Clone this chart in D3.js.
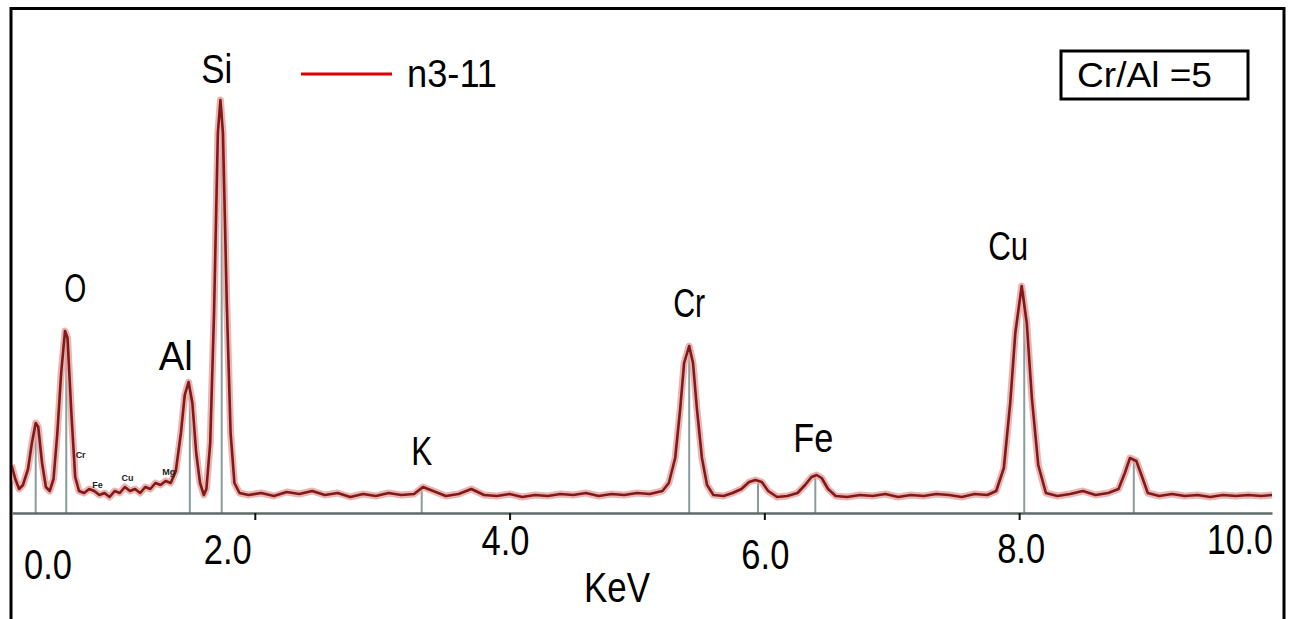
<!DOCTYPE html>
<html>
<head>
<meta charset="utf-8">
<script src="https://cdn.jsdelivr.net/npm/d3@7"></script>
<style>
  html, body { margin: 0; padding: 0; background: #ffffff; }
  svg { display: block; }
</style>
</head>
<body>
<svg id="chart" width="1290" height="619"></svg>
<script>
// EDS spectrum of sample n3-11: energy (keV) and detector counts
const energy = [
  0.09, 0.12, 0.15, 0.18, 0.22, 0.25, 0.28, 0.30, 0.33, 0.36,
  0.39, 0.42, 0.45, 0.48, 0.51, 0.53, 0.56, 0.59, 0.62, 0.66,
  0.70, 0.74, 0.78, 0.82, 0.86, 0.90, 0.94, 0.98, 1.02, 1.06,
  1.10, 1.14, 1.18, 1.22, 1.26, 1.30, 1.34, 1.38, 1.42, 1.45,
  1.48, 1.51, 1.54, 1.57, 1.60, 1.62, 1.65, 1.68, 1.71, 1.73,
  1.75, 1.78, 1.81, 1.84, 1.88, 1.95, 2.05, 2.15, 2.25, 2.35,
  2.45, 2.55, 2.65, 2.75, 2.85, 2.95, 3.05, 3.15, 3.25, 3.32,
  3.40, 3.50, 3.60, 3.70, 3.80, 3.90, 4.00, 4.10, 4.20, 4.30,
  4.40, 4.50, 4.60, 4.70, 4.80, 4.90, 5.00, 5.10, 5.20, 5.25,
  5.30, 5.34, 5.37, 5.41, 5.44, 5.47, 5.51, 5.55, 5.60, 5.68,
  5.75, 5.82, 5.88, 5.93, 5.98, 6.03, 6.10, 6.18, 6.26, 6.32,
  6.37, 6.41, 6.45, 6.50, 6.56, 6.65, 6.75, 6.85, 6.95, 7.05,
  7.15, 7.25, 7.35, 7.45, 7.55, 7.65, 7.75, 7.82, 7.88, 7.93,
  7.97, 8.02, 8.06, 8.10, 8.15, 8.21, 8.30, 8.40, 8.50, 8.60,
  8.70, 8.78, 8.83, 8.87, 8.92, 8.96, 9.01, 9.10, 9.20, 9.30,
  9.40, 9.50, 9.60, 9.70, 9.80, 9.90, 9.99
];
const counts = [
  48, 34, 24, 28, 44, 70, 90, 86, 50, 26,
  22, 34, 80, 140, 182, 175, 100, 36, 22, 20,
  24, 22, 18, 20, 16, 22, 20, 26, 22, 24,
  20, 26, 24, 30, 28, 32, 30, 42, 80, 118,
  131, 110, 60, 30, 18, 24, 70, 200, 380, 413,
  380, 210, 80, 30, 20, 18, 20, 17, 21, 19,
  22, 18, 20, 16, 19, 17, 20, 18, 19, 26,
  22, 17, 19, 24, 18, 17, 19, 16, 18, 17,
  19, 18, 20, 17, 19, 18, 20, 19, 22, 30,
  55, 105, 150, 167, 150, 105, 55, 28, 18, 17,
  20, 24, 31, 33, 31, 22, 16, 17, 20, 28,
  36, 38, 35, 24, 17, 16, 18, 17, 19, 16,
  18, 17, 19, 18, 16, 19, 18, 22, 45, 110,
  180, 227, 190, 115, 48, 20, 17, 19, 22, 18,
  20, 24, 40, 55, 52, 38, 20, 17, 19, 17,
  18, 16, 18, 17, 18, 17, 18
];

// Identified element lines (marker energy and marker height in counts)
const elementNames  = ["O", "Al", "Si", "K", "Cr", "Fe", "Cu"];
const elementEnergy = [0.52, 1.49, 1.74, 3.31, 5.41, 6.40, 8.04];
const markerEnergy  = [0.28, 0.52, 1.49, 1.74, 3.31, 5.41, 5.95, 6.40, 8.04, 8.90];
const markerCounts  = [85, 180, 128, 405, 26, 160, 30, 36, 222, 52];

// Minor L-line tags
const minorNames  = ["Cr", "Fe", "Cu", "Mg"];
const minorEnergy = [0.57, 0.70, 0.93, 1.25];
const minorCounts = [55, 25, 32, 38];

const tickValues = [0, 2, 4, 6, 8, 10];
const tickLabels = ["0.0", "2.0", "4.0", "6.0", "8.0", "10.0"];
const majorTicks = [2, 4, 6, 8];
const seriesName = "n3-11";
const ratioNote = "Cr/Al =5";
const axisTitle = "KeV";

// ---- layout ----
const FONT = "'Liberation Sans', Arial, sans-serif";
const plot = { left: 12, right: 1272, base: 513, top: 93 };
const svg = d3.select("#chart");

const x = d3.scaleLinear().domain([0.094, 9.985]).range([plot.left, plot.right]);
const y = d3.scaleLinear().domain([0, 420]).range([plot.base, plot.top]);

// outer frame (open at the bottom)
svg.append("path")
  .attr("d", d3.line()([[11, 619], [11, 8.5], [1284, 8.5], [1284, 619]]))
  .attr("fill", "none").attr("stroke", "#000").attr("stroke-width", 3);

svg.append("clipPath").attr("id", "plotClip")
  .append("rect").attr("x", plot.left).attr("y", 10)
  .attr("width", plot.right - plot.left).attr("height", plot.base - 10 + 4);

const g = svg.append("g").attr("clip-path", "url(#plotClip)");

// element marker lines
g.selectAll("line.marker").data(markerEnergy).join("line")
  .attr("class", "marker")
  .attr("x1", d => x(d)).attr("x2", d => x(d))
  .attr("y1", y(0)).attr("y2", (d, i) => y(markerCounts[i]))
  .attr("stroke", "#8a9c9c").attr("stroke-width", 2);

// spectrum trace
const pts = energy.map((e, i) => [e, counts[i]]);
const line = d3.line().x(d => x(d[0])).y(d => y(d[1]));
g.append("path").datum(pts).attr("d", line)
  .attr("fill", "none").attr("stroke", "#e4a4a0").attr("stroke-width", 7)
  .attr("stroke-linejoin", "round").attr("opacity", 0.8);
g.append("path").datum(pts).attr("d", line)
  .attr("fill", "none").attr("stroke", "#821818").attr("stroke-width", 2.6)
  .attr("stroke-linejoin", "round");

// baseline axis with tick marks
const axisG = svg.append("g").attr("transform", `translate(0,${plot.base})`)
  .call(d3.axisBottom(x).tickValues(majorTicks).tickSize(7).tickSizeOuter(0).tickFormat(""));
axisG.select(".domain").attr("stroke", "#5f6a6a").attr("stroke-width", 2.5);
axisG.selectAll(".tick line").attr("stroke", "#111").attr("stroke-width", 2);

// tick labels (staggered as printed)
const tickDx = [48, -27, -4, 1, 2, -34];
const tickBase = [579, 564, 555, 569, 563, 554];
const labelAxis = svg.append("g")
  .call(d3.axisBottom(x).tickValues(tickValues).tickSize(0)
    .tickFormat((d, i) => tickLabels[i]));
labelAxis.select(".domain").remove();
labelAxis.selectAll(".tick").each(function (d, i) {
  const t = d3.select(this);
  t.attr("transform", `translate(${x(d) + tickDx[i]},0)`);
  t.select("text")
    .attr("y", tickBase[i]).attr("dy", null)
    .attr("font-family", FONT).attr("font-size", 43)
    .attr("fill", "#000").attr("text-anchor", "middle")
    .attr("textLength", tickLabels[i].length === 4 ? 66 : 48)
    .attr("lengthAdjust", "spacingAndGlyphs");
});

function label(text, cx, baseline, size, width) {
  return svg.append("text").text(text)
    .attr("x", cx).attr("y", baseline)
    .attr("text-anchor", "middle")
    .attr("font-family", FONT).attr("font-size", size)
    .attr("fill", "#000")
    .attr("textLength", width).attr("lengthAdjust", "spacingAndGlyphs");
}

// axis title
label(axisTitle, 617, 602, 43, 66);

// element labels
const elemDx = [9, -14, -5, 0, 0, -2, -16];
const elemBase = [302, 370, 83, 465, 317, 452, 260];
const elemWidth = [22, 34, 31, 21, 32, 40, 40];
elementNames.forEach((n, i) => {
  label(n, x(elementEnergy[i]) + elemDx[i], elemBase[i], 40, elemWidth[i]);
});

// minor L-line tags
minorNames.forEach((n, i) => {
  svg.append("text").text(n)
    .attr("x", x(minorEnergy[i]) + 3).attr("y", y(minorCounts[i]))
    .attr("font-family", FONT).attr("font-size", 9).attr("font-weight", "bold")
    .attr("fill", "#222");
});

// legend
svg.append("line").attr("x1", 301).attr("x2", 392).attr("y1", 74).attr("y2", 74)
  .attr("stroke", "#e00000").attr("stroke-width", 3);
svg.append("text").text(seriesName)
  .attr("x", 407).attr("y", 87)
  .attr("font-family", FONT).attr("font-size", 38).attr("fill", "#000")
  .attr("textLength", 90).attr("lengthAdjust", "spacingAndGlyphs");

// ratio note box
svg.append("rect").attr("x", 1061).attr("y", 51).attr("width", 187).attr("height", 48)
  .attr("fill", "none").attr("stroke", "#000").attr("stroke-width", 3);
svg.append("text").text(ratioNote)
  .attr("x", 1077).attr("y", 87)
  .attr("font-family", FONT).attr("font-size", 35).attr("fill", "#000")
  .attr("textLength", 135).attr("lengthAdjust", "spacingAndGlyphs");
</script>
</body>
</html>
